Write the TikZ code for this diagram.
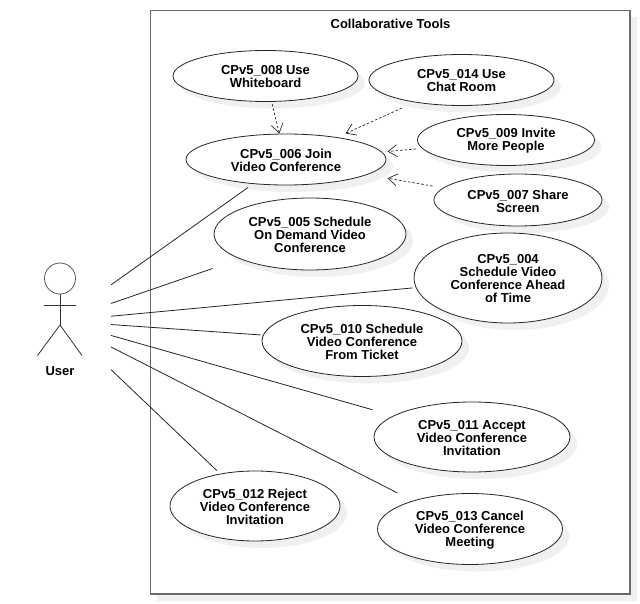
\documentclass[tikz,border=0pt]{standalone}
\usepackage{fontspec}
\setmainfont{Liberation Sans}
\usetikzlibrary{arrows.meta,shapes.geometric}
\definecolor{shadowgray}{gray}{0.94}
\definecolor{framegray}{gray}{0.42}
\newcommand{\ucfont}{\fontsize{13}{13}\selectfont\bfseries}
\tikzset{
  usecase/.style={ellipse,draw=black!85,line width=0.8pt,fill=white,inner sep=0pt},
  usebox/.style={rectangle,inner sep=0pt,outer sep=1.5pt,align=center,font=\ucfont},
  assoc/.style={draw=black!85,line width=0.8pt},
  include/.style={draw=black!85,line width=0.7pt,dash pattern=on 2.5pt off 2pt,-{Straight Barb[length=9pt,width=12pt,line width=0.7pt]}},
  limb/.style={draw=black!80,line width=0.8pt}
}
% nom, x, y, largeur, hauteur, texte
\newcommand{\usecasenode}[6]{
  \fill[shadowgray] (#2+7,#3+7) ellipse [x radius=#4/2,y radius=#5/2]; %ombre
  \node[usecase,minimum width=#4pt,minimum height=#5pt] (#1shape) at (#2,#3) {};
  \node[usebox,minimum width=#4pt,minimum height=#5pt] (#1) at (#2,#3+1) {#6};
}
\begin{document}
\begin{tikzpicture}[x=1pt,y=-1pt]
  \useasboundingbox (0,0) rectangle (640,604);
  \fill[shadowgray] (157,17) rectangle (637,601); %ombre du cadre
  \draw[framegray,line width=1.6pt,fill=white] (150.5,10.5) rectangle (630,594); %cadre
  \node[font=\ucfont] (title) at (390.5,24) {Collaborative Tools};
  % cas d'utilisation
  \usecasenode{uc008}{265.5}{76}{185}{51}{CPv5\_008 Use\\Whiteboard}
  \usecasenode{uc014}{461.5}{80}{185}{51}{CPv5\_014 Use\\Chat Room}
  \usecasenode{uc006}{286}{159.5}{200}{51}{CPv5\_006 Join\\Video Conference}
  \usecasenode{uc009}{506}{140}{177}{51}{CPv5\_009 Invite\\More People}
  \usecasenode{uc007}{518}{200}{168}{52}{CPv5\_007 Share\\Screen}
  \usecasenode{uc005}{310}{234}{192}{72}{CPv5\_005 Schedule\\On Demand Video\\Conference}
  \usecasenode{uc004}{508}{278}{188}{90}{CPv5\_004\\Schedule Video\\Conference Ahead\\of Time}
  \usecasenode{uc010}{362}{341}{200}{71}{CPv5\_010 Schedule\\Video Conference\\From Ticket}
  \usecasenode{uc011}{472}{437}{196}{70}{CPv5\_011 Accept\\Video Conference\\Invitation}
  \usecasenode{uc012}{255}{506}{170}{70}{CPv5\_012 Reject\\Video Conference\\Invitation}
  \usecasenode{uc013}{470}{529}{185}{71}{CPv5\_013 Cancel\\Video Conference\\Meeting}
  % acteur
  \node[minimum width=102pt,minimum height=120pt,inner sep=0pt,outer sep=0pt] (user) at (60,321) {};
  \draw[limb,black!65] (60,278.5) circle (15.5); %tete
  \draw[limb] (60,294) -- (60,325); %corps
  \draw[limb] (44,305.5) -- (76,305.5); %bras
  \draw[limb] (37.5,355.5) -- (60,325) -- (82,355.5); %jambes
  \node[font=\ucfont] (usertext) at (60,371) {User};
  % associations
  \foreach \uc in {uc006,uc005,uc004,uc010,uc011,uc013,uc012}
    \draw[assoc] (user) -- (\uc);
  % inclusions
  \draw[include] (uc008) -- (uc006);
  \draw[include] (uc014) -- (uc006);
  \draw[include] (uc009) -- (uc006);
  \draw[include] (uc007) -- (uc006);
\end{tikzpicture}
\end{document}
